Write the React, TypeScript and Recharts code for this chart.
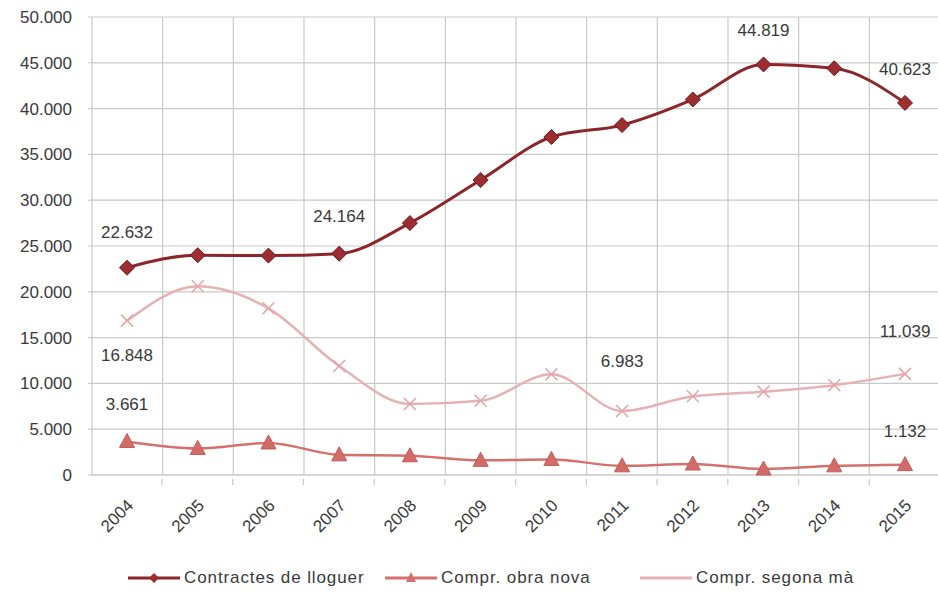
import { LineChart, Line, XAxis, YAxis, CartesianGrid, Legend, LabelList } from 'recharts';

const years = ['2004', '2005', '2006', '2007', '2008', '2009', '2010', '2011', '2012', '2013', '2014', '2015'];
const contractes = [22632, 24000, 23950, 24164, 27500, 32200, 36900, 38200, 41000, 44819, 44400, 40623];
const obraNova = [3661, 2900, 3500, 2200, 2100, 1600, 1700, 1000, 1200, 650, 1000, 1132];
const segona = [16848, 20600, 18200, 11900, 7750, 8100, 11000, 6983, 8600, 9100, 9800, 11039];
const yTicks = [0, 5000, 10000, 15000, 20000, 25000, 30000, 35000, 40000, 45000, 50000];

const data = years.map((y, i) => ({ year: y, contractes: contractes[i], obraNova: obraNova[i], segona: segona[i] }));

const FONT = "'Liberation Sans', Arial, sans-serif";
const TXT = '#3a3a3a';
const C1 = '#8c262b';
const C2 = '#d4716d';
const C3 = '#e6b1b5';

const fmt = (v: number) => String(v).replace(/\B(?=(\d{3})+(?!\d))/g, '.');

function Diamond({ cx, cy }: any) {
  if (cx == null || cy == null) return null;
  const r = 7.5;
  return <path d={`M${cx},${cy - r}L${cx + r},${cy}L${cx},${cy + r}L${cx - r},${cy}Z`} fill="#9c2e32" stroke="#6e1a1e" strokeWidth={1} />;
}

function Triangle({ cx, cy }: any) {
  if (cx == null || cy == null) return null;
  return <path d={`M${cx},${cy - 8}L${cx + 7.5},${cy + 6}L${cx - 7.5},${cy + 6}Z`} fill="#d36c69" stroke="#c25a58" strokeWidth={1} />;
}

function Cross({ cx, cy }: any) {
  if (cx == null || cy == null) return null;
  const r = 6;
  return (
    <g stroke="#e2a7ab" strokeWidth={1.6}>
      <line x1={cx - r} y1={cy - r} x2={cx + r} y2={cy + r} />
      <line x1={cx - r} y1={cy + r} x2={cx + r} y2={cy - r} />
    </g>
  );
}

// which points carry a value label, and how far above/below the point it sits
const makeLabel = (shown: Record<number, number>) => (props: any) => {
  const { x, y, value, index } = props;
  if (!(index in shown)) return null;
  return (
    <text x={x} y={y + shown[index]} textAnchor="middle" dominantBaseline="middle" fontSize={17} fontFamily={FONT} fill={TXT}>
      {fmt(value)}
    </text>
  );
};

function XTick({ x, y, payload }: any) {
  return (
    <g>
      <line x1={x + 35} y1={y - 4} x2={x + 35} y2={y + 2} stroke="#c9c9c9" strokeWidth={1.2} />
      <text x={x - 1} y={y + 15} transform={`rotate(-45 ${x - 1} ${y + 15})`} textAnchor="end" dominantBaseline="hanging" fontSize={17} fontFamily={FONT} fill={TXT}>
        {payload.value}
      </text>
    </g>
  );
}

const legendItems = [
  { label: 'Contractes de lloguer', color: C1, mark: 'd', left: 128 },
  { label: 'Compr. obra nova', color: C2, mark: 't', left: 385 },
  { label: 'Compr. segona mà', color: C3, mark: 'x', left: 640 },
];

function LegendContent() {
  return (
    <div style={{ position: 'relative', height: 26, fontFamily: FONT, fontSize: 17, letterSpacing: 0.9, color: TXT }}>
      {legendItems.map((it) => (
        <div key={it.label} style={{ position: 'absolute', left: it.left, top: 0, display: 'flex', alignItems: 'center', whiteSpace: 'nowrap' }}>
          <svg width={52} height={16} style={{ marginRight: 4 }}>
            <line x1={0} y1={8} x2={52} y2={8} stroke={it.color} strokeWidth={3} />
            {it.mark === 'd' && <path d="M26,3L31,8L26,13L21,8Z" fill="#9c2e32" />}
            {it.mark === 't' && <path d="M26,2L31,12L21,12Z" fill={C2} />}
          </svg>
          <span>{it.label}</span>
        </div>
      ))}
    </div>
  );
}

export default function App() {
  return (
    <div style={{ position: 'absolute', left: 0, top: 0, width: 938, height: 595, background: '#fff' }}>
      <LineChart width={938} height={595} data={data} margin={{ top: 17, right: -2, left: 0, bottom: 34 }}>
        <CartesianGrid
          stroke="#c9c9c9"
          strokeWidth={1.2}
          verticalCoordinatesGenerator={({ offset }: any) =>
            years.map((_, i) => offset.left + (offset.width / years.length) * i).concat([offset.left + offset.width])
          }
        />
        <XAxis
          dataKey="year"
          padding={{ left: 35, right: 35 }}
          axisLine={{ stroke: '#c9c9c9' }}
          tickLine={false}
          tick={<XTick />}
          height={60}
          interval={0}
        />
        <YAxis
          domain={[0, 50000]}
          ticks={yTicks}
          width={92}
          axisLine={false}
          tickLine={{ stroke: '#c9c9c9' }}
          tickSize={4}
          tickMargin={16}
          tickFormatter={fmt}
          tick={{ fontSize: 17, fontFamily: FONT, fill: TXT }}
        />
        <Legend verticalAlign="bottom" content={<LegendContent />} wrapperStyle={{ top: 568, bottom: 'auto', left: 0, width: 938, height: 26 }} />
        <Line type="monotone" dataKey="segona" name="Compr. segona mà" stroke={C3} strokeWidth={2.5} dot={<Cross />} isAnimationActive={false}>
          <LabelList dataKey="segona" content={makeLabel({ 0: 36, 7: -49, 11: -41 })} />
        </Line>
        <Line type="monotone" dataKey="obraNova" name="Compr. obra nova" stroke={C2} strokeWidth={2.5} dot={<Triangle />} isAnimationActive={false}>
          <LabelList dataKey="obraNova" content={makeLabel({ 0: -36, 11: -32 })} />
        </Line>
        <Line type="monotone" dataKey="contractes" name="Contractes de lloguer" stroke={C1} strokeWidth={3} dot={<Diamond />} isAnimationActive={false}>
          <LabelList dataKey="contractes" content={makeLabel({ 0: -34, 3: -36, 9: -33, 11: -32 })} />
        </Line>
      </LineChart>
    </div>
  );
}
